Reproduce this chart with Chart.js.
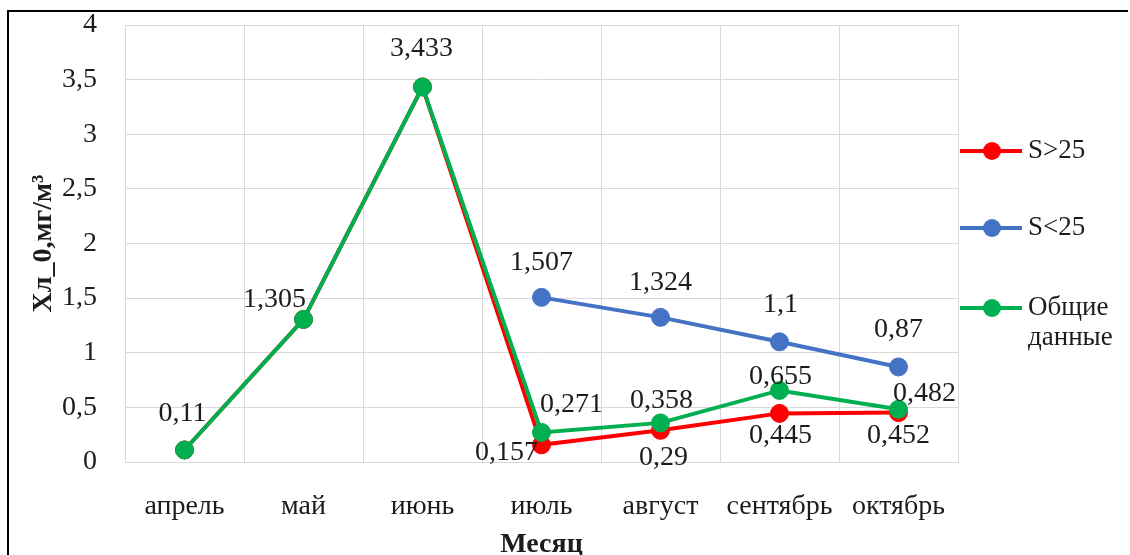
<!DOCTYPE html>
<html lang="ru">
<head>
<meta charset="utf-8">
<title>Хл_0 по месяцам</title>
<script src="https://cdn.jsdelivr.net/npm/chart.js@4.4.1/dist/chart.umd.min.js"></script>
<style>
    html, body { margin: 0; padding: 0; background: #fff; overflow: hidden; }
    #wrap { position: relative; width: 1130px; height: 555px; }
    #frame {
        position: absolute; left: 7px; top: 10px; width: 1121px; height: 560px;
        box-sizing: border-box; border-top: 2px solid #000; border-left: 2px solid #000;
        pointer-events: none;
    }
</style>
</head>
<body>
<div id="wrap">
    <canvas id="chart1"></canvas>
    <div id="frame"></div>
</div>
<script>
// Данные графика
const months = ['апрель', 'май', 'июнь', 'июль', 'август', 'сентябрь', 'октябрь'];
const sAbove25 = [0.11, 1.305, 3.433, 0.157, 0.29, 0.445, 0.452];
const sBelow25 = [null, null, null, 1.507, 1.324, 1.1, 0.87];
const allData = [0.11, 1.305, 3.433, 0.271, 0.358, 0.655, 0.482];

const seriesNames = ['S>25', 'S<25', ['Общие', 'данные']];

// Смещения подписей значений (dx, dy) относительно точки; null = без подписи
const redLabelPos = [null, null, null, [-35, 8], [3, 27], [1, 22], [0, 23]];
const blueLabelPos = [null, null, null, [0, -35], [0, -35], [1, -37], [0, -37]];
const greenLabelPos = [[-2, -36], [-29, -20], [-1, -38], [30, -28], [1, -22], [1, -14], [26, -16]];

const RED = 'rgb(255, 0, 0)';
const BLUE = 'rgb(68, 114, 196)';
const GREEN = 'rgb(0, 176, 80)';
const FONT = "'Liberation Serif', 'Times New Roman', serif";
const TEXT = '#1c1c1c';

function fmt(v) {
    return String(v).replace('.', ',');
}

// Подписи значений у точек
const valueLabels = {
    id: 'valueLabels',
    afterDatasetsDraw(chart) {
        const ctx = chart.ctx;
        ctx.save();
        ctx.font = '28px ' + FONT;
        ctx.fillStyle = TEXT;
        ctx.textAlign = 'center';
        ctx.textBaseline = 'middle';
        chart.data.datasets.forEach(function (ds, i) {
            const meta = chart.getDatasetMeta(i);
            meta.data.forEach(function (pt, j) {
                const pos = ds.labelPos[j];
                if (!pos || ds.data[j] === null) return;
                ctx.fillText(fmt(ds.data[j]), pt.x + pos[0], pt.y + pos[1]);
            });
        });
        ctx.restore();
    }
};

// Легенда справа в стиле Excel (линия с маркером)
const sideLegend = {
    id: 'sideLegend',
    afterDraw(chart) {
        const ctx = chart.ctx;
        const x0 = chart.chartArea.right + 2;
        const rows = [151, 228, 308];
        ctx.save();
        ctx.font = '27px ' + FONT;
        ctx.fillStyle = TEXT;
        ctx.textBaseline = 'middle';
        const order = [2, 1, 0]; // индексы наборов: S>25, S<25, общие
        order.forEach(function (di, k) {
            const ds = chart.data.datasets[di];
            const y = rows[k];
            ctx.strokeStyle = ds.borderColor;
            ctx.lineWidth = 4;
            ctx.beginPath();
            ctx.moveTo(x0, y);
            ctx.lineTo(x0 + 62, y);
            ctx.stroke();
            ctx.fillStyle = ds.borderColor;
            ctx.beginPath();
            ctx.arc(x0 + 32, y, 9, 0, Math.PI * 2);
            ctx.fill();
            ctx.fillStyle = TEXT;
            const name = seriesNames[k];
            const lines = Array.isArray(name) ? name : [name];
            lines.forEach(function (t, n) {
                ctx.fillText(t, x0 + 68, y + n * 30);
            });
        });
        ctx.restore();
    }
};

const ctx = document.getElementById('chart1').getContext('2d');
const chart = new Chart(ctx, {
    type: 'line',
    data: {
        labels: months,
        datasets: [
            {
                label: 'Общие данные',
                data: allData,
                borderColor: GREEN,
                backgroundColor: GREEN,
                labelPos: greenLabelPos
            },
            {
                label: 'S<25',
                data: sBelow25,
                borderColor: BLUE,
                backgroundColor: BLUE,
                labelPos: blueLabelPos
            },
            {
                label: 'S>25',
                data: sAbove25,
                borderColor: RED,
                backgroundColor: RED,
                labelPos: redLabelPos
            }
        ]
    },
    options: {
        responsive: true,
        maintainAspectRatio: false,
        animation: false,
        layout: { padding: { top: 25, right: 172, bottom: 0, left: 0 } },
        elements: {
            line: { borderWidth: 4, tension: 0 },
            point: { radius: 9, borderWidth: 1, hoverRadius: 9 }
        },
        plugins: {
            legend: { display: false },
            tooltip: { enabled: false }
        },
        scales: {
            x: {
                offset: true,
                grid: { offset: true, color: '#d9d9d9', drawTicks: false },
                border: { color: '#d9d9d9' },
                ticks: {
                    color: TEXT,
                    padding: 28,
                    maxRotation: 0,
                    font: { family: FONT, size: 28, lineHeight: 1.2 }
                },
                title: {
                    display: true,
                    text: 'Месяц',
                    color: TEXT,
                    padding: 0,
                    font: { family: FONT, size: 28, weight: 'bold', lineHeight: 0.7 }
                },
                afterFit: function (scale) { scale.height = 93; }
            },
            y: {
                min: 0,
                max: 4,
                grid: { color: '#d9d9d9', drawTicks: false },
                border: { display: false },
                ticks: {
                    stepSize: 0.5,
                    color: TEXT,
                    padding: 28,
                    font: { family: FONT, size: 28, lineHeight: 1.2 },
                    callback: function (v) { return fmt(v); }
                },
                title: {
                    display: true,
                    text: 'Хл_0,мг/м³',
                    color: TEXT,
                    padding: { top: 27, bottom: 0 },
                    font: { family: FONT, size: 28, weight: 'bold', lineHeight: 1.2 }
                },
                afterFit: function (scale) {
                    scale.width = 125;
                    // без лишнего отступа сверху/снизу от padding подписей
                    scale.paddingTop = 0;
                    scale.paddingBottom = 0;
                }
            }
        }
    },
    plugins: [valueLabels, sideLegend]
});
</script>
</body>
</html>
